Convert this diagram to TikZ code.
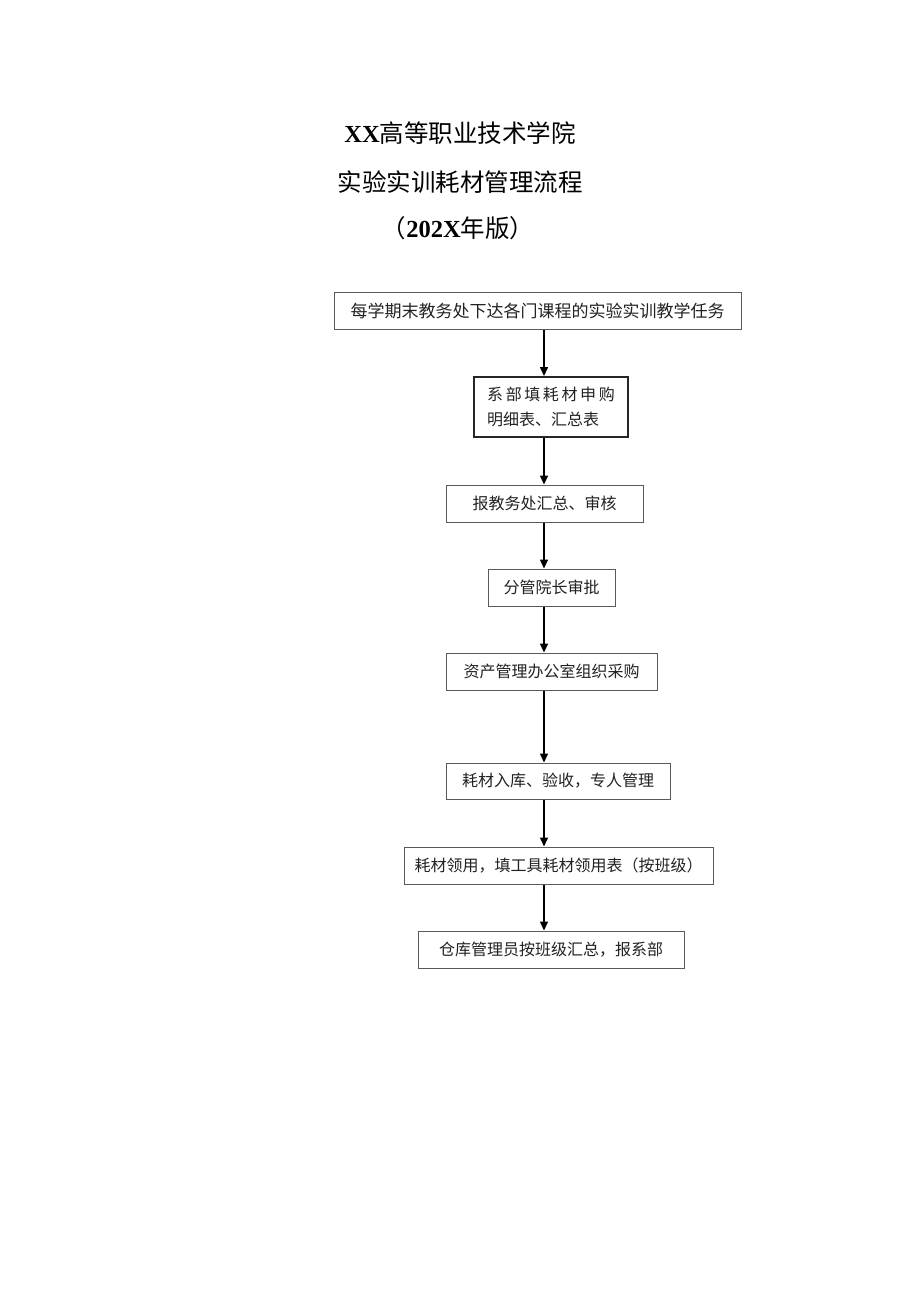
\documentclass[tikz,border=0pt]{standalone}
\usepackage{fontspec}
\setmainfont{Liberation Serif}
\newfontfamily\cjk{Noto Sans CJK SC}
\usetikzlibrary{arrows.meta}
\definecolor{txt}{HTML}{222222}
\definecolor{frame}{HTML}{5A5A5A}
\tikzset{
  box/.style={draw=frame, line width=1pt, inner sep=0pt, text=txt,
    font=\cjk\fontsize{16}{25}\selectfont},
  thickbox/.style={box, draw=black!85, line width=2pt, align=left},
  flow/.style={draw=black, line width=1.5pt, -{Triangle[length=9pt,width=8pt]}},
  titletext/.style={inner sep=0pt, text=black, font=\fontsize{24.5}{28}\selectfont}
}
\begin{document}
\begin{tikzpicture}[x=1pt,y=-1pt]
\useasboundingbox (0,0) rectangle (920,1301);
\fill[white] (0,0) rectangle (920,1301);
% title
\node[titletext] (t1) at (460,133) {\textbf{XX}{\cjk 高等职业技术学院}};
\node[titletext] (t2) at (460,182) {\cjk 实验实训耗材管理流程};
\node[titletext] (t3) at (458,228) {{\cjk （}\textbf{202X}{\cjk 年版）}};
% boxes
\node[box, minimum width=407pt, minimum height=37pt, font=\cjk\fontsize{17}{20}\selectfont]
  (b1) at (537.5,310.5) {每学期末教务处下达各门课程的实验实训教学任务};
\node[thickbox, minimum width=154pt, minimum height=60pt]
  (b2) at (551,407) {系\kern2.6pt 部\kern2.6pt 填\kern2.6pt 耗\kern2.6pt 材\kern2.6pt 申\kern2.6pt 购\\明细表、汇总表};
\node[box, minimum width=197pt, minimum height=37pt] (b3) at (544.5,503.5) {报教务处汇总、审核};
\node[box, minimum width=127pt, minimum height=37pt] (b4) at (551.5,587.5) {分管院长审批};
\node[box, minimum width=211pt, minimum height=37pt] (b5) at (551.5,671.5) {资产管理办公室组织采购};
\node[box, minimum width=224pt, minimum height=36pt] (b6) at (558,781) {耗材入库、验收，专人管理};
\node[box, minimum width=309pt, minimum height=37pt] (b7) at (558.5,865.5) {耗材领用，填工具耗材领用表（按班级）};
\node[box, minimum width=266pt, minimum height=37pt] (b8) at (551,949.5) {仓库管理员按班级汇总，报系部};
% arrow axis
\coordinate (ax) at (544,0);
\draw[flow] (b1.south -| ax) -- (b2.north -| ax);
\draw[flow] (b2.south -| ax) -- (b3.north -| ax);
\draw[flow] (b3.south -| ax) -- (b4.north -| ax);
\draw[flow] (b4.south -| ax) -- (b5.north -| ax);
\draw[flow] (b5.south -| ax) -- (b6.north -| ax);
\draw[flow] (b6.south -| ax) -- (b7.north -| ax);
\draw[flow] (b7.south -| ax) -- (b8.north -| ax);
\end{tikzpicture}
\end{document}
